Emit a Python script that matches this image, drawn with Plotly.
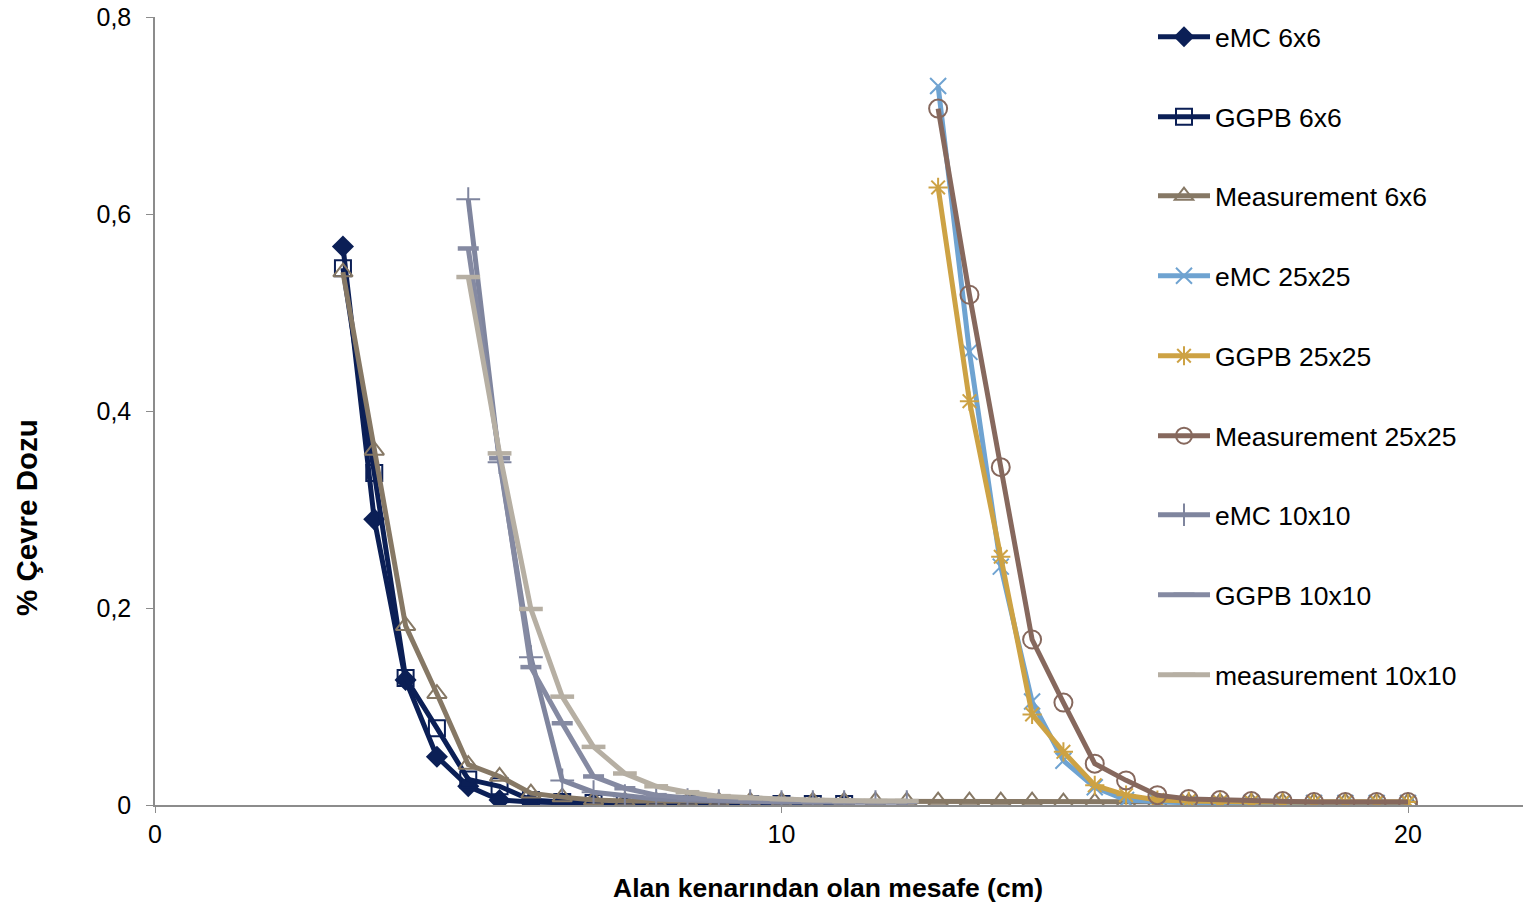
import plotly.graph_objects as go

# ---------------- data ----------------
x_6 = [3.0 + 0.5 * i for i in range(17)]          # 3.0 .. 11.0
x_6m = [3.0 + 0.5 * i for i in range(35)]         # 3.0 .. 20.0
x_10 = [5.0 + 0.5 * i for i in range(15)]         # 5.0 .. 12.0
x_25 = [12.5 + 0.5 * i for i in range(16)]        # 12.5 .. 20.0

emc_6 = [0.567, 0.290, 0.127, 0.049, 0.019, 0.005, 0.003, 0.002, 0.001,
         0.001, 0.001, 0.001, 0.001, 0.001, 0.001, 0.001, 0.001]
ggpb_6 = [0.545, 0.337, 0.129, 0.078, 0.026, 0.019, 0.005, 0.003, 0.002,
          0.002, 0.001, 0.001, 0.001, 0.001, 0.001, 0.001, 0.001]
meas_6 = [0.541, 0.360, 0.182, 0.113, 0.041, 0.029, 0.012, 0.008, 0.005,
          0.004, 0.004, 0.004, 0.004, 0.004, 0.004, 0.004, 0.004, 0.004,
          0.004, 0.004, 0.004, 0.004, 0.004, 0.003, 0.003, 0.003, 0.003,
          0.003, 0.003, 0.003, 0.003, 0.003, 0.003, 0.003, 0.003]
emc_25 = [0.730, 0.460, 0.242, 0.105, 0.045, 0.018, 0.005, 0.003, 0.002,
          0.002, 0.002, 0.002, 0.002, 0.002, 0.002, 0.002]
ggpb_25 = [0.627, 0.410, 0.252, 0.092, 0.054, 0.020, 0.010, 0.005, 0.004,
           0.003, 0.003, 0.003, 0.003, 0.003, 0.003, 0.003]
meas_25 = [0.707, 0.518, 0.343, 0.168, 0.104, 0.042, 0.025, 0.010, 0.006,
           0.005, 0.004, 0.004, 0.003, 0.003, 0.003, 0.003]
emc_10 = [0.615, 0.348, 0.150, 0.025, 0.013, 0.009, 0.006, 0.005, 0.004,
          0.004, 0.003, 0.003, 0.003, 0.003, 0.003]
ggpb_10 = [0.565, 0.352, 0.140, 0.083, 0.029, 0.017, 0.010, 0.007, 0.005,
           0.004, 0.004, 0.003, 0.003, 0.003, 0.003]
meas_10 = [0.536, 0.357, 0.199, 0.110, 0.059, 0.032, 0.019, 0.013, 0.009,
           0.007, 0.006, 0.005, 0.004, 0.004, 0.004]

names = ["eMC 6x6", "GGPB 6x6", "Measurement 6x6", "eMC 25x25", "GGPB 25x25",
         "Measurement 25x25", "eMC 10x10", "GGPB 10x10", "measurement 10x10"]

x_ticks = [0, 10, 20]
y_ticks = [0, 0.2, 0.4, 0.6, 0.8]
x_title = "Alan kenarından olan mesafe (cm)"
y_title = "% Çevre Dozu"

# ---------------- styles ----------------
series = [
    (names[0], x_6, emc_6, "#0b1f56", "diamond", 17, 0),
    (names[1], x_6, ggpb_6, "#0b1f56", "square-open", 16, 2),
    (names[2], x_6m, meas_6, "#867865", "triangle-up-open", 17, 2),
    (names[3], x_25, emc_25, "#6fa3d1", "x-thin", 16, 2),
    (names[4], x_25, ggpb_25, "#cda244", "asterisk", 16, 2),
    (names[5], x_25, meas_25, "#86685d", "circle-open", 18, 2),
    (names[6], x_10, emc_10, "#7f859e", "cross-thin", 17, 2),
    (names[7], x_10, ggpb_10, "#858aa2", "line-ew", 15, 4.5),
    (names[8], x_10, meas_10, "#b6afa3", "line-ew", 17, 4.5),
]

# body margin is removed in the page (post_script), so the figure starts at 0,0
W, H = 1523, 907
ML, MT, MB = 155, 17, 102
plot_top, plot_bottom, plot_left = 17, 805, 155
plot_w = W - ML
plot_h = plot_bottom - plot_top


def px_to_paper_x(px):
    return (px - plot_left) / plot_w


def px_to_paper_y(py):
    return (plot_bottom - py) / plot_h


fig = go.Figure()
legend_centers_px = [37, 117, 196, 276, 356, 436, 515, 595, 675]
layout_legends = {}
for i, (nm, xs, ys, col, sym, size, lw) in enumerate(series):
    key = "legend" if i == 0 else f"legend{i + 1}"
    fig.add_trace(go.Scatter(
        x=xs, y=ys, name=nm, mode="lines+markers",
        line=dict(color=col, width=5),
        marker=dict(symbol=sym, size=size, color=col,
                    line=dict(width=lw, color=col)),
        legend=key,
    ))
    layout_legends[key] = dict(
        x=px_to_paper_x(1153), xanchor="left",
        y=px_to_paper_y(legend_centers_px[i]), yanchor="middle",
        font=dict(family="Liberation Sans, Arial, sans-serif", size=26.5, color="#000000"),
        bgcolor="rgba(0,0,0,0)", itemwidth=52,
    )

fig.update_layout(
    width=W, height=H,
    margin=dict(l=ML, r=0, t=MT, b=MB, autoexpand=False),
    paper_bgcolor="white", plot_bgcolor="white",
    separators=", ",
    showlegend=True,
    font=dict(family="Liberation Sans, Arial, sans-serif", color="#000000"),
    **layout_legends,
)

fig.add_annotation(
    text=f"<b>{x_title}</b>", xref="paper", yref="paper",
    x=px_to_paper_x(828), y=px_to_paper_y(888),
    xanchor="center", yanchor="middle", showarrow=False,
    font=dict(size=26.5, color="#000000"),
)
fig.add_annotation(
    text=f"<b>{y_title}</b>", xref="paper", yref="paper",
    x=px_to_paper_x(26), y=px_to_paper_y(518), textangle=-90,
    xanchor="center", yanchor="middle", showarrow=False,
    font=dict(size=29.5, color="#000000"),
)

fig.update_xaxes(
    range=[0, plot_w / 62.65], tickvals=x_ticks,
    showgrid=False, zeroline=False, automargin=False,
    showline=True, linecolor="#8c8c8c", linewidth=1.5,
    ticks="outside", ticklen=6, tickcolor="#8c8c8c",
    tickfont=dict(size=25, color="#000000"),
)
fig.update_yaxes(
    range=[0, 0.8], tickvals=y_ticks,
    showgrid=False, zeroline=False, automargin=False,
    showline=True, linecolor="#8c8c8c", linewidth=1.5,
    ticks="outside", ticklen=7, tickcolor="#8c8c8c",
    ticklabelstandoff=10, ticklabeloverflow="allow",
    tickfont=dict(size=25, color="#000000"),
)

fig.write_html("out.html",
               config={"displayModeBar": False},
               post_script="document.body.style.margin='0';document.body.style.overflow='hidden';")
